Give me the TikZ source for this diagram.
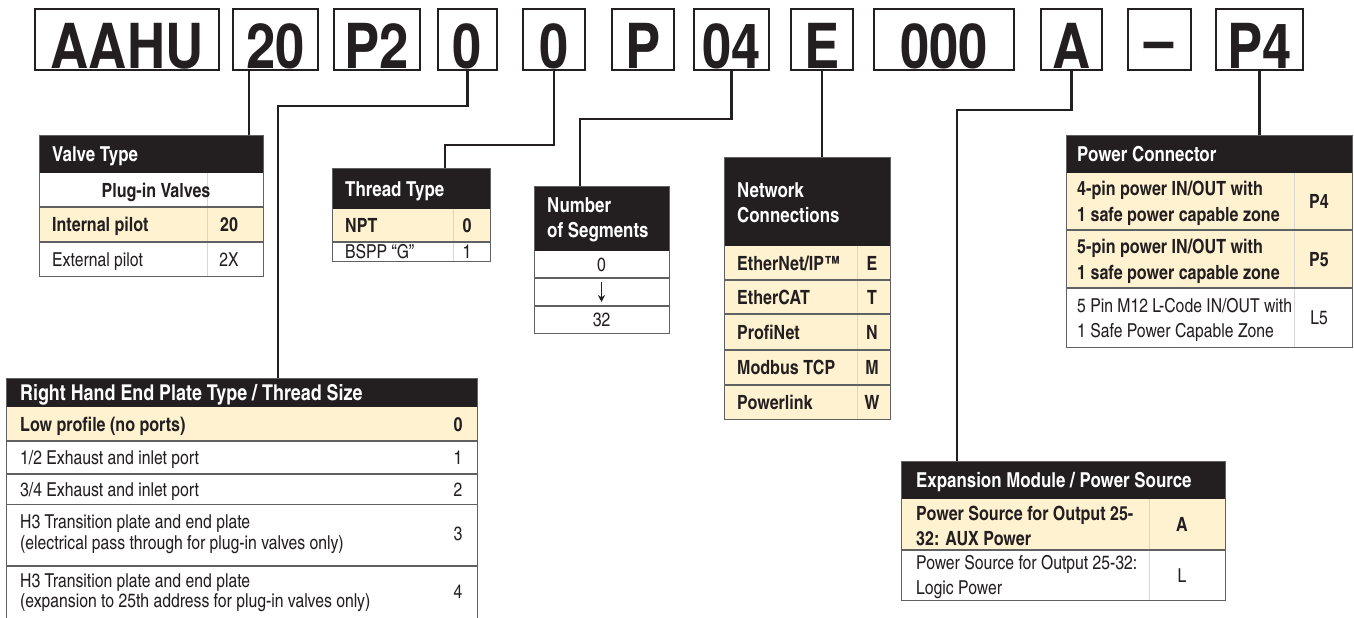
\documentclass[tikz,border=0pt]{standalone}
\usepackage{fontspec}
\usepackage{graphicx}
\newfontfamily\cnfont{texgyreheroscn}[Extension=.otf,UprightFont=*-regular,BoldFont=*-bold]
\newfontfamily\hvfont{texgyreheros}[Extension=.otf,UprightFont=*-regular,BoldFont=*-bold]
\usetikzlibrary{arrows.meta}
\definecolor{ink}{HTML}{231F20}
\definecolor{cream}{HTML}{FFF2D1}
\definecolor{rulec}{HTML}{606163}
\definecolor{faint}{HTML}{D6D6D6}
\newcommand\hdfont{\cnfont\bfseries\fontsize{20.6}{24}\selectfont}
\newcommand\hdbigfont{\cnfont\bfseries\fontsize{21.8}{25}\selectfont}
\newcommand\btfont{\cnfont\bfseries\fontsize{19.6}{23}\selectfont}
\newcommand\rtfont{\cnfont\fontsize{19.2}{22}\selectfont}
\newcommand\cdfont{\hvfont\bfseries\fontsize{62}{62}\selectfont}
\newcommand\cd[1]{\scalebox{0.85}[1]{#1}}
\begin{document}
\begin{tikzpicture}[x=1pt,y=-1pt,
  codebox/.style={draw=ink, line width=2pt, fill=white, anchor=north west, inner xsep=0pt, inner ysep=0pt,
    text height=59pt, text depth=2pt, font=\cdfont, text=ink},
  conn/.style={draw=ink, line width=2.6pt},
  frame/.style={draw=rulec, line width=1.4pt},
  rowline/.style={draw=rulec, line width=1.2pt},
  coldiv/.style={draw=faint, line width=0.8pt},
  hd/.style={font=\hdfont, text=white, inner sep=0pt, anchor=base west},
  bt/.style={font=\btfont, text=ink, inner sep=0pt, anchor=base west},
  rt/.style={font=\rtfont, text=ink, inner sep=0pt, anchor=base west},
  bc/.style={font=\btfont, text=ink, inner sep=0pt, anchor=base},
  rc/.style={font=\rtfont, text=ink, inner sep=0pt, anchor=base}]
\useasboundingbox (0,0) rectangle (1354,618);
\fill[white] (0,0) rectangle (1354,618);

% ---------------- code boxes ----------------
\node[codebox, minimum width=184pt] (aahu) at (34,8) {\cd{AAHU}};
\node[codebox, minimum width=85pt] (b20) at (232,8) {\cd{20}};
\node[codebox, minimum width=86pt] (bp2) at (333,8) {\cd{P2}};
\node[codebox, minimum width=59pt] (b0a) at (437,8) {\cd{0}};
\node[codebox, minimum width=62pt] (b0b) at (522,8) {\cd{0}};
\node[codebox, minimum width=62pt] (bp) at (611,8) {\cd{P}};
\node[codebox, minimum width=75pt] (b04) at (693,8) {\cd{04}};
\node[codebox, minimum width=62pt] (be) at (790,8) {\cd{E}};
\node[codebox, minimum width=140pt] (b000) at (873,8) {\cd{000}};
\node[codebox, minimum width=61pt] (ba) at (1040,8) {\cd{A}};
\node[codebox, minimum width=63pt] (bdash) at (1127,8) {\cd{\raisebox{6pt}{–}}};
\node[codebox, minimum width=87pt] (bp4) at (1215,8) {\cd{P4}};

% ---------------- Valve Type ----------------
\fill[ink] (39,135) rectangle (263,173);
\fill[cream] (39,207) rectangle (263,242);
\draw[coldiv] (207,173) -- (207,276);
\draw[rowline] (39,207) -- (263,207);
\draw[rowline] (39,242) -- (263,242);
\node[frame, minimum width=224pt, minimum height=141pt, anchor=north west, inner sep=0pt] (vt) at (39,135) {};
\node[hd] (vth) at (52,161.5) {Valve Type};
\node[bc] (vt1) at (156,197.1) {Plug-in Valves};
\node[bt] (vt2) at (52,231.6) {Internal pilot};
\node[bc] (vt2c) at (229,231.6) {20};
\node[rt] (vt3) at (52,266) {External pilot};
\node[rc] (vt3c) at (229,266) {2X};

% ---------------- Thread Type ----------------
\fill[ink] (332,168) rectangle (490,209);
\fill[cream] (332,209) rectangle (490,242);
\draw[coldiv] (453,209) -- (453,261);
\draw[rowline] (332,242) -- (490,242);
\node[frame, minimum width=158pt, minimum height=93pt, anchor=north west, inner sep=0pt] (tt) at (332,168) {};
\node[hd] (tth) at (345,196) {Thread Type};
\node[bt] (tt1) at (345,232.6) {NPT};
\node[bc] (tt1c) at (467,232.6) {0};
\node[rt] (tt2) at (345,258.5) {BSPP “G”};
\node[rc] (tt2c) at (467,258.5) {1};

% ---------------- Number of Segments ----------------
\fill[ink] (534,186) rectangle (669,251);
\draw[rowline] (534,278) -- (669,278);
\draw[rowline] (534,306) -- (669,306);
\node[frame, minimum width=135pt, minimum height=147pt, anchor=north west, inner sep=0pt] (ns) at (534,186) {};
\node[hd] (nsh1) at (547,212) {Number};
\node[hd] (nsh2) at (547,237) {of Segments};
\node[rc] (ns1) at (601.5,271.5) {0};
\draw[ink, line width=1.1pt, -{Stealth[length=7pt,width=7pt]}] (601.5,282) -- (601.5,302);
\node[rc] (ns3) at (601.5,326.5) {32};

% ---------------- Network Connections ----------------
\fill[ink] (724,157) rectangle (890,246);
\fill[cream] (724,246) rectangle (890,419);
\draw[coldiv] (857,246) -- (857,419);
\foreach \yy in {280,314,350,385} \draw[rowline] (724,\yy) -- (890,\yy);
\node[frame, minimum width=166pt, minimum height=262pt, anchor=north west, inner sep=0pt] (nc) at (724,157) {};
\node[hd] (nch1) at (737,197.5) {Network};
\node[hd] (nch2) at (737,222.5) {Connections};
\node[bt] (nc1) at (737,270.1) {EtherNet/IP™};
\node[bc] (nc1c) at (872,270.1) {E};
\node[bt] (nc2) at (737,304.1) {EtherCAT};
\node[bc] (nc2c) at (872,304.1) {T};
\node[bt] (nc3) at (737,339.1) {ProfiNet};
\node[bc] (nc3c) at (872,339.1) {N};
\node[bt] (nc4) at (737,374.6) {Modbus TCP};
\node[bc] (nc4c) at (872,374.6) {M};
\node[bt] (nc5) at (737,409.1) {Powerlink};
\node[bc] (nc5c) at (872,409.1) {W};

% ---------------- Power Connector ----------------
\fill[ink] (1066,135) rectangle (1352,173);
\fill[cream] (1066,173) rectangle (1352,288);
\draw[coldiv] (1294,173) -- (1294,347);
\draw[rowline] (1066,230) -- (1352,230);
\draw[rowline] (1066,288) -- (1352,288);
\node[frame, minimum width=286pt, minimum height=212pt, anchor=north west, inner sep=0pt] (pc) at (1066,135) {};
\node[hd] (pch) at (1077,161.5) {Power Connector};
\node[bt] (pc1a) at (1077,195.5) {4-pin power IN/OUT with};
\node[bt] (pc1b) at (1077,221) {1 safe power capable zone};
\node[bc] (pc1c) at (1319,208.6) {P4};
\node[bt] (pc2a) at (1077,253.5) {5-pin power IN/OUT with};
\node[bt] (pc2b) at (1077,279) {1 safe power capable zone};
\node[bc] (pc2c) at (1319,266.1) {P5};
\node[rt] (pc3a) at (1077,312) {5 Pin M12 L-Code IN/OUT with};
\node[rt] (pc3b) at (1077,337) {1 Safe Power Capable Zone};
\node[rc] (pc3c) at (1319,324.5) {L5};

% ---------------- Right Hand End Plate ----------------
\fill[ink] (6,378) rectangle (477,407);
\fill[cream] (6,407) rectangle (477,441);
\foreach \yy in {441,474,504.5,566} \draw[rowline] (6,\yy) -- (477,\yy);
\node[frame, minimum width=471pt, minimum height=250pt, anchor=north west, inner sep=0pt] (rh) at (6,378) {};
\node[hd, font=\hdbigfont] (rhh) at (20,400.3) {Right Hand End Plate Type / Thread Size};
\node[bt] (rh0) at (20,431.1) {Low profile (no ports)};
\node[bc] (rh0c) at (458,431.1) {0};
\node[rt] (rh1) at (20,464.5) {1/2 Exhaust and inlet port};
\node[rc] (rh1c) at (458,464.5) {1};
\node[rt] (rh2) at (20,496.2) {3/4 Exhaust and inlet port};
\node[rc] (rh2c) at (458,496.2) {2};
\node[rt] (rh3a) at (20,528.5) {H3 Transition plate and end plate};
\node[rt] (rh3b) at (20,549.5) {(electrical pass through for plug-in valves only)};
\node[rc] (rh3c) at (458,540) {3};
\node[rt] (rh4a) at (20,587) {H3 Transition plate and end plate};
\node[rt] (rh4b) at (20,607.5) {(expansion to 25th address for plug-in valves only)};
\node[rc] (rh4c) at (458,598) {4};

% ---------------- Expansion Module ----------------
\fill[ink] (901,461) rectangle (1225,499);
\fill[cream] (901,499) rectangle (1225,550);
\draw[coldiv] (1149,499) -- (1149,600);
\draw[rowline] (901,550) -- (1225,550);
\node[frame, minimum width=324pt, minimum height=139pt, anchor=north west, inner sep=0pt] (em) at (901,461) {};
\node[hd] (emh) at (916,487.5) {Expansion Module / Power Source};
\node[bt] (em1a) at (916,520) {Power Source for Output 25-};
\node[bt] (em1b) at (916,545.5) {32: AUX Power};
\node[bc] (em1c) at (1182,531.6) {A};
\node[rt] (em2a) at (916,569) {Power Source for Output 25-32:};
\node[rt] (em2b) at (916,594.5) {Logic Power};
\node[rc] (em2c) at (1182,582) {L};

% ---------------- connectors ----------------
\draw[conn] ([xshift=-26.5pt]b20.south) -- ([xshift=-26.5pt]b20.south |- vt.north);
\coordinate (k1) at ([yshift=-35pt]b0a.south);
\draw[conn] (b0a.south) -- (k1) -- (k1 -| 278,0) -- (rh.north -| 278,0);
\coordinate (k2) at ([yshift=-74pt]b0b.south);
\draw[conn] (b0b.south) -- (k2) -- (k2 -| 445,0) -- (tt.north -| 445,0);
\coordinate (k3) at ([yshift=-48pt]b04.south);
\draw[conn] (b04.south) -- (k3) -- (k3 -| 580,0) -- (ns.north -| 580,0);
\draw[conn] (be.south) -- (be.south |- nc.north);
\coordinate (k4) at ([yshift=-39pt]ba.south);
\draw[conn] (ba.south) -- (k4) -- (k4 -| 957,0) -- (em.north -| 957,0);
\draw[conn] (bp4.south) -- (bp4.south |- pc.north);
\end{tikzpicture}
\end{document}
